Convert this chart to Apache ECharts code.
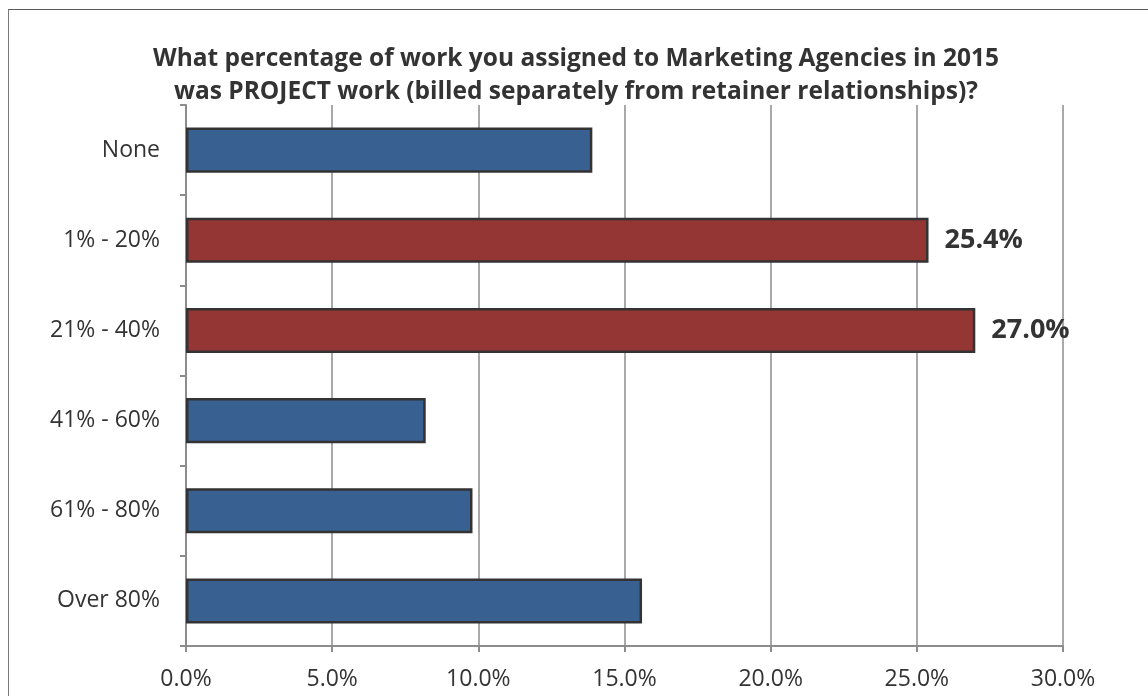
<!DOCTYPE html>
<html>
<head>
<meta charset="utf-8">
<script src="https://cdn.jsdelivr.net/npm/echarts@6/dist/echarts.min.js"></script>
<style>
  html, body { margin: 0; padding: 0; background: #fff; overflow: hidden; }
  #frame { position: absolute; left: 8px; top: 9px; width: 1200px; height: 760px; border: 1px solid #5a5a5a; border-left-color: #7a7a7a; box-sizing: border-box; }
  #chart { position: absolute; left: 0; top: 0; width: 1148px; height: 696px; }
</style>
</head>
<body>
<div id="frame"></div>
<div id="chart"></div>
<script>
// Share of agency work billed as projects, by response bucket
const categories = ['None', '1% - 20%', '21% - 40%', '41% - 60%', '61% - 80%', 'Over 80%'];
const shares = [13.9, 25.4, 27.0, 8.2, 9.8, 15.6];
const highlighted = [false, true, true, false, false, false];
const xTicks = [0, 5, 10, 15, 20, 25, 30];

const BLUE = '#386192';
const RED = '#943634';
const FONT = '"Open Sans", "Liberation Sans", sans-serif';

const chart = echarts.init(document.getElementById('chart'), null, { renderer: 'canvas' });

chart.setOption({
  animation: false,
  backgroundColor: 'transparent',
  title: {
    text: 'What percentage of work you assigned to Marketing Agencies in 2015\nwas PROJECT work (billed separately from retainer relationships)?',
    left: 571,
    top: 38,
    textAlign: 'center',
    textStyle: {
      fontFamily: FONT,
      fontWeight: 'bold',
      fontSize: 24.5,
      lineHeight: 33,
      color: '#333333'
    }
  },
  grid: { left: 186, right: 85, top: 105, bottom: 50 },
  xAxis: {
    type: 'value',
    min: xTicks[0],
    max: xTicks[xTicks.length - 1],
    interval: 5,
    axisLine: { show: true, lineStyle: { color: '#8c8c8c', width: 2 } },
    axisTick: { show: true, length: 6, lineStyle: { color: '#8c8c8c', width: 2 } },
    splitLine: { show: true, lineStyle: { color: '#8c8c8c', width: 1.5 } },
    axisLabel: {
      formatter: v => v.toFixed(1) + '%',
      fontFamily: FONT,
      fontSize: 23,
      color: '#333333',
      margin: 22
    }
  },
  yAxis: {
    type: 'category',
    data: categories,
    inverse: true,
    axisLine: { show: true, lineStyle: { color: '#8c8c8c', width: 2 } },
    axisTick: { show: true, length: 6, alignWithLabel: false, lineStyle: { color: '#8c8c8c', width: 2 } },
    axisLabel: {
      fontFamily: FONT,
      fontSize: 23,
      color: '#333333',
      margin: 26
    }
  },
  series: [{
    type: 'bar',
    barWidth: '50%',
    data: shares.map((v, i) => ({
      value: v,
      itemStyle: { color: highlighted[i] ? RED : BLUE },
      label: {
        show: highlighted[i],
        position: 'right',
        distance: 16,
        formatter: p => p.value.toFixed(1) + '%',
        fontFamily: FONT,
        fontWeight: 'bold',
        fontSize: 27,
        color: '#333333'
      }
    })),
    itemStyle: { borderColor: '#333333', borderWidth: 2.5 }
  }]
});
</script>
</body>
</html>
